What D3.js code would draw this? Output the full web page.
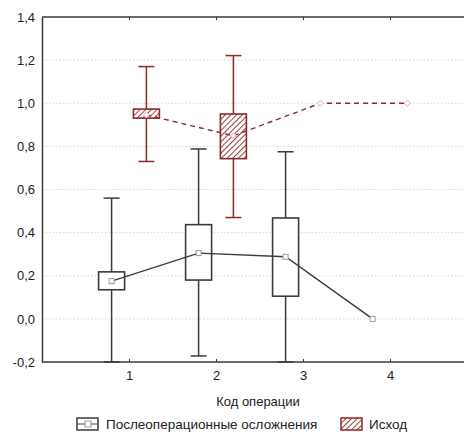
<!DOCTYPE html>
<html>
<head>
<meta charset="utf-8">
<script src="https://cdn.jsdelivr.net/npm/d3@7"></script>
<style>
  body { margin: 0; background: #fff; }
  svg { display: block; font-family: "Liberation Sans", Arial, sans-serif; }
</style>
</head>
<body>
<svg id="chart" width="464" height="432"></svg>
<script>
// categories on x
const codes = [1, 2, 3, 4];
const yTicks = [-0.2, 0, 0.2, 0.4, 0.6, 0.8, 1.0, 1.2, 1.4];

// Послеоперационные осложнения (black)
const complMean = [0.175, 0.305, 0.288, 0.0];
const complQ1   = [0.135, 0.180, 0.105, null];
const complQ3   = [0.218, 0.437, 0.468, null];
const complLow  = [-0.2, -0.172, -0.2, null];
const complHigh = [0.560, 0.788, 0.775, null];

// Исход (dark red)
const outMean = [0.946, 0.849, 1.0, 1.0];
const outQ1   = [0.931, 0.743, null, null];
const outQ3   = [0.973, 0.950, null, null];
const outLow  = [0.730, 0.470, null, null];
const outHigh = [1.170, 1.221, null, null];

const W = 464, H = 432;
const m = {top: 17, left: 42, bottom: 362};
const svg = d3.select("#chart");

const x = d3.scaleLinear().domain([0, 5]).range([m.left, m.left + 87 * 5]);
const y = d3.scaleLinear().domain([-0.2, 1.4]).range([m.bottom, m.top]);
const fmt = d => d3.format(".1f")(d).replace(".", ",").replace("−", "-");

const BLACK = "#3b3b3b", RED = "#8c2a2a", PINK = "#e6aaaa";

// hatch pattern
const defs = svg.append("defs");
const pat = defs.append("pattern")
  .attr("id", "hatch")
  .attr("patternUnits", "userSpaceOnUse")
  .attr("width", 4).attr("height", 4)
  .attr("patternTransform", "rotate(45)");
pat.append("rect").attr("width", 4).attr("height", 4).attr("fill", "#fff");
pat.append("line").attr("x1", 0).attr("y1", 0).attr("x2", 0).attr("y2", 4)
  .attr("stroke", RED).attr("stroke-width", 1.8);

const clip = defs.append("clipPath").attr("id", "plot");
clip.append("rect").attr("x", m.left).attr("y", m.top - 2)
  .attr("width", W - m.left).attr("height", m.bottom - m.top + 4);

// grid
svg.append("g")
  .selectAll("line")
  .data(yTicks.slice(1, -1))
  .join("line")
  .attr("x1", m.left).attr("x2", W)
  .attr("y1", d => y(d)).attr("y2", d => y(d))
  .attr("stroke", "#d4d4d4").attr("stroke-dasharray", "1.5,2");

// axes
const yAxis = svg.append("g")
  .attr("transform", `translate(${m.left},0)`)
  .call(d3.axisLeft(y).tickValues(yTicks).tickFormat(fmt).tickSize(0).tickPadding(7));
yAxis.select(".domain").attr("stroke", BLACK).attr("stroke-width", 1.5);
yAxis.selectAll("text").attr("font-size", 13).attr("fill", "#222");

const xAxis = svg.append("g")
  .attr("transform", `translate(0,${m.bottom})`)
  .call(d3.axisTop(x).tickValues(codes).tickFormat(d3.format("d")).tickSize(3).tickSizeOuter(0));
xAxis.select(".domain").remove();
xAxis.selectAll("line").attr("stroke", BLACK);
xAxis.selectAll("text").attr("font-size", 13).attr("fill", "#222")
  .attr("y", 9).attr("dy", "0.71em");
svg.append("line").attr("x1", m.left).attr("x2", W)
  .attr("y1", m.bottom).attr("y2", m.bottom)
  .attr("stroke", BLACK).attr("stroke-width", 1.5);

const topAxis = svg.append("g")
  .attr("transform", `translate(0,${m.top})`)
  .call(d3.axisBottom(x).tickValues(codes).tickFormat("").tickSize(3).tickSizeOuter(0));
topAxis.select(".domain").remove();
topAxis.selectAll("line").attr("stroke", BLACK);
svg.append("line").attr("x1", m.left).attr("x2", W)
  .attr("y1", m.top).attr("y2", m.top)
  .attr("stroke", BLACK).attr("stroke-width", 1.5);

svg.append("text")
  .attr("x", 258).attr("y", 406)
  .attr("text-anchor", "middle").attr("font-size", 13).attr("fill", "#222")
  .text("Код операции");

function drawSeries(opts) {
  const {mean, q1, q3, low, high, offset, color, fill, dash, marker} = opts;
  const g = svg.append("g").attr("clip-path", "url(#plot)");
  const cx = i => x(codes[i] + offset);
  const idx = codes.map((c, i) => i);

  const boxes = idx.filter(i => q1[i] !== null);
  const bw = 26, cw = 16;
  // whiskers
  g.selectAll(null).data(boxes).join("line")
    .attr("x1", cx).attr("x2", cx)
    .attr("y1", i => y(low[i])).attr("y2", i => y(high[i]))
    .attr("stroke", color).attr("stroke-width", 1.5);
  g.selectAll(null).data(boxes.flatMap(i => [[i, low[i]], [i, high[i]]])).join("line")
    .attr("x1", d => cx(d[0]) - cw / 2).attr("x2", d => cx(d[0]) + cw / 2)
    .attr("y1", d => y(d[1])).attr("y2", d => y(d[1]))
    .attr("stroke", color).attr("stroke-width", 1.5);
  // boxes
  g.selectAll(null).data(boxes).join("rect")
    .attr("x", i => cx(i) - bw / 2).attr("width", bw)
    .attr("y", i => y(q3[i])).attr("height", i => y(q1[i]) - y(q3[i]))
    .attr("fill", fill).attr("stroke", color).attr("stroke-width", 1.6);

  // mean line
  g.append("path")
    .datum(idx)
    .attr("fill", "none").attr("stroke", color).attr("stroke-width", 1.4)
    .attr("stroke-dasharray", dash)
    .attr("d", d3.line().x(i => cx(i)).y(i => y(mean[i])));

  // mean markers
  if (marker === "square") {
    g.selectAll(null).data(idx).join("rect")
      .attr("x", i => cx(i) - 2.5).attr("y", i => y(mean[i]) - 2.5)
      .attr("width", 5).attr("height", 5)
      .attr("fill", "#fff").attr("stroke", "#999").attr("stroke-width", 1);
  } else {
    g.selectAll(null).data(idx).join("path")
      .attr("transform", i => `translate(${cx(i)},${y(mean[i])})`)
      .attr("d", "M0,-3L3,0L0,3L-3,0Z")
      .attr("fill", "#fff").attr("stroke", PINK).attr("stroke-width", 1);
  }
}

drawSeries({mean: complMean, q1: complQ1, q3: complQ3, low: complLow, high: complHigh,
  offset: -0.2, color: BLACK, fill: "#fff", dash: null, marker: "square"});
drawSeries({mean: outMean, q1: outQ1, q3: outQ3, low: outLow, high: outHigh,
  offset: 0.2, color: RED, fill: "url(#hatch)", dash: "5,4", marker: "diamond"});

// legend
const lg = svg.append("g");
lg.append("rect").attr("x", 77).attr("y", 418).attr("width", 21).attr("height", 12)
  .attr("fill", "#fff").attr("stroke", BLACK).attr("stroke-width", 1.5);
lg.append("line").attr("x1", 77).attr("x2", 98).attr("y1", 424).attr("y2", 424)
  .attr("stroke", BLACK).attr("stroke-width", 1);
lg.append("rect").attr("x", 85).attr("y", 421).attr("width", 6).attr("height", 6)
  .attr("fill", "#fff").attr("stroke", "#999");
lg.append("text").attr("x", 106).attr("y", 429).attr("font-size", 13.5).attr("fill", "#222")
  .text("Послеоперационные осложнения");
lg.append("rect").attr("x", 341).attr("y", 418).attr("width", 21).attr("height", 12)
  .attr("fill", "url(#hatch)").attr("stroke", RED).attr("stroke-width", 1.5);
lg.append("text").attr("x", 369).attr("y", 429).attr("font-size", 13.5).attr("fill", "#222")
  .text("Исход");
</script>
</body>
</html>
